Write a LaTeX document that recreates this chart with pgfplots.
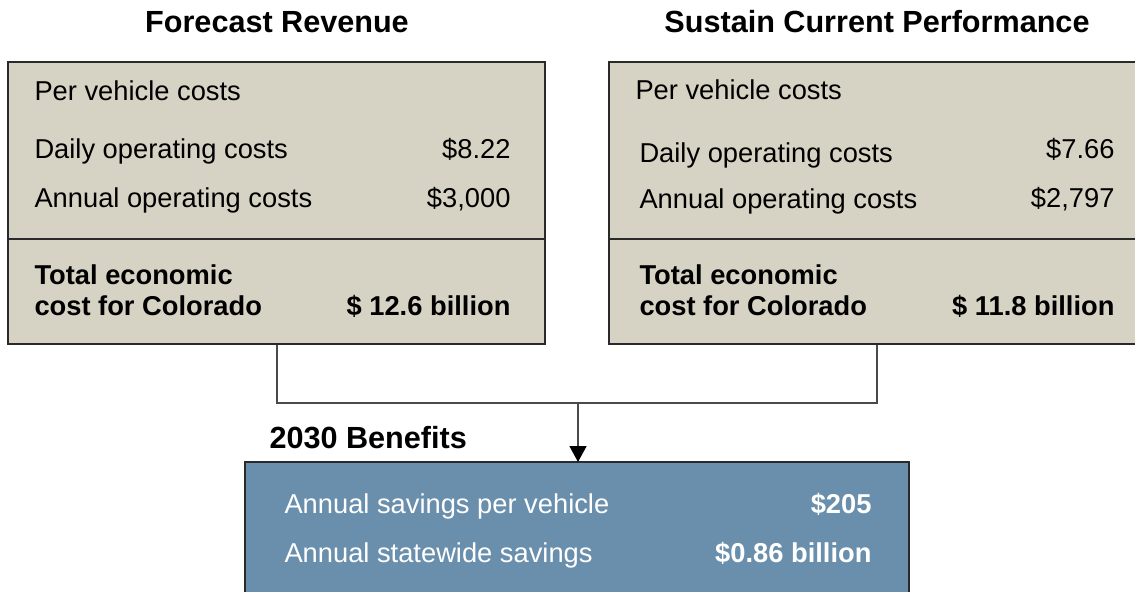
\documentclass[border=0pt]{standalone}
\usepackage{pgfplots}
\pgfplotsset{compat=1.18}
\usepackage{fontspec}
\setmainfont{Liberation Sans}
\usetikzlibrary{arrows.meta}
\definecolor{tanbox}{HTML}{D7D3C4}
\definecolor{bluebox}{HTML}{6A8FAC}
\definecolor{boxline}{HTML}{2A2A2A}
\definecolor{connline}{HTML}{4A4A4A}
\newcommand{\bodyfont}{\fontsize{27.3bp}{32bp}\selectfont}
\newcommand{\titlefont}{\fontsize{30.6bp}{36bp}\selectfont\bfseries}
\begin{document}
\begin{tikzpicture}
\begin{axis}[
  width=1135bp, height=592bp, scale only axis, hide axis,
  xmin=0, xmax=1135, ymin=0, ymax=592, y dir=reverse, clip=false,
  every node/.style={inner sep=0pt, outer sep=0pt},
]
% boxes
\addplot[draw=boxline, fill=tanbox, line width=1.8bp] coordinates {(8,62) (545,62) (545,344) (8,344)} -- cycle;
\addplot[draw=boxline, line width=1.8bp] coordinates {(8,239) (545,239)};
\addplot[draw=boxline, fill=tanbox, line width=1.8bp] coordinates {(609,62) (1146,62) (1146,344) (609,344)} -- cycle;
\addplot[draw=boxline, line width=1.8bp] coordinates {(609,239) (1146,239)};
\addplot[draw=boxline, fill=bluebox, line width=1.8bp] coordinates {(245,462) (909,462) (909,605) (245,605)} -- cycle;
% connector
\addplot[draw=connline, line width=1.6bp] coordinates {(277,345) (277,403) (877,403) (877,345)};
\addplot[draw=connline, line width=1.6bp, -{Triangle[width=17bp,length=16bp,color=black]}] coordinates {(578,403) (578,462)};
% titles
\node[anchor=base, font=\titlefont] at (axis cs:277,33) {Forecast Revenue};
\node[anchor=base, font=\titlefont] at (axis cs:877,33) {Sustain Current Performance};
\node[anchor=base west, font=\titlefont] at (axis cs:266,448) {2030 Benefits};
% left box
\node[anchor=base west, font=\bodyfont] at (axis cs:31,101) {Per vehicle costs};
\node[anchor=base west, font=\bodyfont] at (axis cs:31,158) {Daily operating costs};
\node[anchor=base east, font=\bodyfont] at (axis cs:514,158) {\$8.22};
\node[anchor=base west, font=\bodyfont] at (axis cs:31,207) {Annual operating costs};
\node[anchor=base east, font=\bodyfont] at (axis cs:514,207) {\$3,000};
\node[anchor=base west, font=\bodyfont\bfseries] at (axis cs:31,284) {Total economic};
\node[anchor=base west, font=\bodyfont\bfseries] at (axis cs:31,315) {cost for Colorado};
\node[anchor=base east, font=\bodyfont\bfseries] at (axis cs:514,315) {\$ 12.6 billion};
% right box
\node[anchor=base west, font=\bodyfont] at (axis cs:632,100) {Per vehicle costs};
\node[anchor=base west, font=\bodyfont] at (axis cs:636,162) {Daily operating costs};
\node[anchor=base east, font=\bodyfont] at (axis cs:1118,158) {\$7.66};
\node[anchor=base west, font=\bodyfont] at (axis cs:636,208) {Annual operating costs};
\node[anchor=base east, font=\bodyfont] at (axis cs:1118,207) {\$2,797};
\node[anchor=base west, font=\bodyfont\bfseries] at (axis cs:636,284) {Total economic};
\node[anchor=base west, font=\bodyfont\bfseries] at (axis cs:636,315) {cost for Colorado};
\node[anchor=base east, font=\bodyfont\bfseries] at (axis cs:1118,315) {\$ 11.8 billion};
% blue box
\node[anchor=base west, font=\bodyfont, text=white] at (axis cs:281,513) {Annual savings per vehicle};
\node[anchor=base east, font=\bodyfont\bfseries, text=white] at (axis cs:875,513) {\$205};
\node[anchor=base west, font=\bodyfont, text=white] at (axis cs:281,562) {Annual statewide savings};
\node[anchor=base east, font=\bodyfont\bfseries, text=white] at (axis cs:875,562) {\$0.86 billion};
\end{axis}
\pgfresetboundingbox
\useasboundingbox (0,0) rectangle (1135bp,592bp);
\end{tikzpicture}
\end{document}
